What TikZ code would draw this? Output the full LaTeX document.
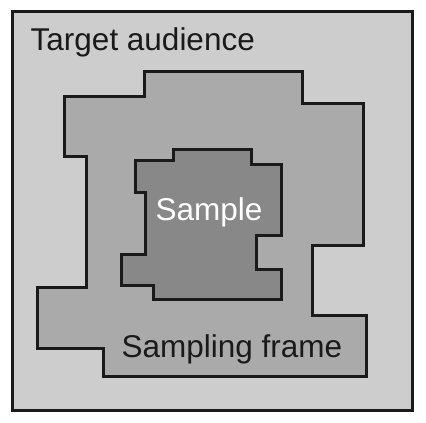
\documentclass[tikz,border=0pt]{standalone}
\usepackage{fontspec}
\setmainfont{Liberation Sans}
\definecolor{audiencefill}{HTML}{CDCDCD}
\definecolor{framefill}{HTML}{AAAAAA}
\definecolor{samplefill}{HTML}{888888}
\definecolor{inkline}{HTML}{1A1A1A}
\begin{document}
\begin{tikzpicture}[x=1pt,y=-1pt,
  region/.style={draw=inkline,line width=3pt,line join=miter},
  label/.style={anchor=base west,inner sep=0pt,font=\fontsize{31.5}{31.5}\selectfont}]
\useasboundingbox (0,0) rectangle (426,423);
\fill[white] (0,0) rectangle (426,423);
% target audience: the outer box
\draw[region,fill=audiencefill] (12,11) rectangle (412,410);
% sampling frame: stepped region inside the box
\draw[region,fill=framefill]
  (64,96) -- (144,96) -- (144,71) -- (302,71) -- (302,103) -- (363,103)
  -- (363,245) -- (312,245) -- (312,315) -- (366,315) -- (366,376)
  -- (103,376) -- (103,348) -- (37,348) -- (37,287) -- (86,287)
  -- (86,156) -- (64,156) -- cycle;
% sample: stepped region inside the frame
\draw[region,fill=samplefill]
  (135,160) -- (173,160) -- (173,149) -- (251,149) -- (251,164) -- (281,164)
  -- (281,235) -- (256,235) -- (256,269) -- (281,269) -- (281,299)
  -- (153,299) -- (153,285) -- (121,285) -- (121,254) -- (145,254)
  -- (145,192) -- (135,192) -- cycle;
\node[label,text=inkline] (audience) at (30.5,50) {Target audience};
\node[label,text=inkline] (frame) at (121.5,357) {Sampling frame};
\node[label,text=white] (sample) at (155.5,220) {Sample};
\end{tikzpicture}
\end{document}
